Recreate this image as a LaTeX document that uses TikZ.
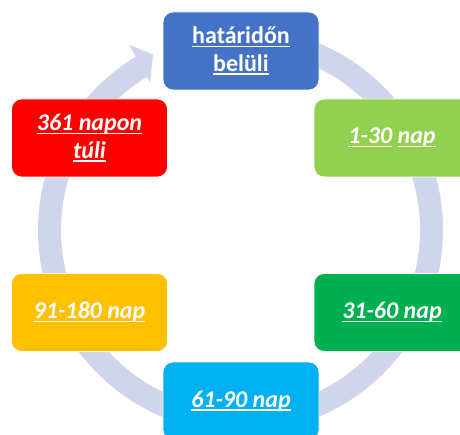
\documentclass[tikz,border=0pt]{standalone}
\usepackage{fontspec}
\setmainfont{Carlito}
\usetikzlibrary{calc}
\definecolor{ringc}{HTML}{CFD5EA}
\definecolor{cblue}{HTML}{4472C4}
\definecolor{clgreen}{HTML}{92D050}
\definecolor{cdgreen}{HTML}{00B050}
\definecolor{clblue}{HTML}{00B0F0}
\definecolor{cyellow}{HTML}{FFC000}
\definecolor{cred}{HTML}{FF0000}
\newcommand\ulx[1]{\setbox0\hbox{#1}\rlap{\rule[-3.4pt]{\wd0}{1.5pt}}\box0\relax}
\tikzset{
  stagebox/.style={draw=white, line width=0.8pt, rounded corners=10pt,
    minimum width=156pt, minimum height=78pt, inner sep=0pt,
    text=white, align=center, font=\fontsize{24}{27.5}\selectfont\bfseries},
  itbox/.style={stagebox, font=\fontsize{24}{27.5}\selectfont\bfseries\itshape},
  ringline/.style={draw=ringc, line width=23pt}
}
\begin{document}
\begin{tikzpicture}[x=1pt,y=1pt]
\useasboundingbox (0,0) rectangle (460,434);
\coordinate (c) at (240.5,204);
\draw[ringline] ($(c)+(85:191)$) arc[start angle=85, end angle=-239, radius=191];
\fill[ringc] ($(c)+(121:216)$) -- ($(c)+(116.5:196)$) -- ($(c)+(121.5:173)$) -- cycle;
\node[stagebox, fill=cblue] (top) at (241,383) {\ulx{határidőn}\\\ulx{belüli}};
\node[itbox, fill=clgreen] (rt) at (392,296) {\ulx{1-30} \ulx{nap}};
\node[itbox, fill=cdgreen] (rb) at (392,121.5) {\ulx{31-60 nap}};
\node[itbox, fill=clblue] (bot) at (241,33) {\ulx{61-90 nap}};
\node[itbox, fill=cyellow] (lb) at (89.5,121.5) {\ulx{91-180 nap}};
\node[itbox, fill=cred] (lt) at (89.5,296) {\ulx{361 napon}\\\ulx{túli}};
\end{tikzpicture}
\end{document}
